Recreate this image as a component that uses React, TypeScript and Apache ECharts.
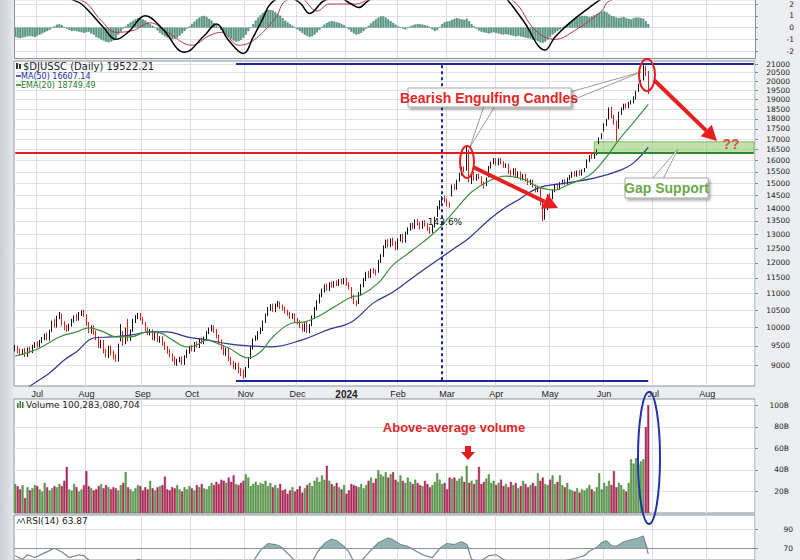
import React, { useEffect, useRef } from "react";
import * as echarts from "echarts";

// ---------- data ----------
const HOLIDAYS = ["2023-07-04","2023-09-04","2023-11-23","2023-12-25","2024-01-01","2024-01-15","2024-02-19","2024-03-29","2024-05-27","2024-07-04"];
const FIRST_DAY = "2023-06-20";
const LAST_DAY = "2024-08-28";
const MONTHS = ["Jan","Feb","Mar","Apr","May","Jun","Jul","Aug","Sep","Oct","Nov","Dec"];

const closes = [9450,9350,9300,9380,9260,9420,9350,9480,
9550,9500,9620,9700,9780,
9700,9900,10150,10050,10300,10380,
10100,10000,9950,10060,
10200,10300,10250,10400,10450,10350,
10100,9900,10000,9850,
9700,9500,9600,9350,9250,9450,9300,9200,9150,
9500,9800,9600,9950,9700,9900,
10200,10300,10350,10250,10150,
9950,9850,9900,9700,9800,9650,9700,9550,9450,
9350,9250,9150,9050,9100,9150,9050,9200,
9350,9450,9400,9550,9500,9650,9600,9700,
9850,9950,10000,9900,9750,
9600,9450,9300,9400,9150,9050,8950,9000,8850,
8800,8750,8900,
9150,9450,9650,9700,9850,9950,10150,10350,
10550,10600,10500,10650,10700,10600,10550,
10450,10400,10300,10350,10200,10150,
10050,9950,10100,9900,10050,
10300,10550,10750,10950,11100,11250,11150,
11300,11250,11350,11300,11400,11350,11450,11300,11200,
10900,10750,10700,
11000,11250,11450,11650,11550,11750,11700,11650,
12050,12250,12550,12750,12600,12800,12650,
12500,12800,12950,12750,13050,13200,
13350,13250,13500,13400,13250,13450,13350,
13200,13100,13300,13600,
14000,14250,14400,14300,14150,14100,
14900,14800,15100,
15400,15650,15550,
16250,
15100,
15400,15200,15350,15250,15000,14950,15200,
15700,15900,16050,15850,16050,15900,15750,
15800,15500,15400,15600,15300,15450,15200,15350,15150,
15000,15100,14900,14700,14850,
14200,13700,
13900,14500,14400,14700,14900,14800,15000,
15100,15000,15200,
15300,15450,15350,15500,15400,15550,15600,
16000,16200,16150,16300,16450,
17000,17200,
17700,17900,
18500,18100,17800,17500,18300,
18500,18700,18600,18800,18900,
19100,19400,
19800,20000,
20700,20400,19522.21];

const opens = [9400,9450,9380,9300,9390,9250,9430,9340,
9470,9560,9490,9610,9690,
9800,9680,9920,10180,10040,10290,
10350,10120,10020,9940,
10080,10180,10330,10240,10380,10470,
10340,10120,9880,10020,
9870,9720,9480,9620,9370,9230,9460,9320,9220,
9130,9700,9820,9580,9980,9680,
9920,10180,10290,10380,10260,
10120,9970,9830,9920,9680,9820,9630,9720,9570,
9460,9370,9260,9170,9030,9120,9170,9040,
9220,9330,9470,9380,9570,9480,9670,9580,
9690,9870,9930,10020,9920,
9770,9630,9470,9280,9420,9170,9070,8930,9020,
8870,8820,8730,
8950,9180,9430,9680,9690,9870,9930,10170,
10370,10530,10620,10480,10630,10720,10610,
10570,10460,10420,10280,10370,10220,
10170,10070,9930,10120,9880,
10070,10280,10530,10730,10930,11080,11270,
11120,11320,11230,11370,11280,11420,11330,11470,11320,
11180,10930,10730,
10720,10980,11230,11430,11680,11530,11770,11720,
11700,12030,12230,12530,12780,12580,12830,
12700,12480,12780,12980,12730,13030,
13180,13380,13230,13530,13420,13230,13480,
13380,13230,13080,13280,
13700,13980,14230,14430,14320,14170,
14500,14930,14780,
15120,15380,15680,
15600,
16350,
15050,15450,15180,15380,15270,15030,14930,
15300,15680,15880,16080,15830,16080,15930,
15720,15830,15530,15380,15630,15280,15480,15180,15380,
15180,14980,15130,14920,14680,
14800,14300,
13600,13950,14530,14380,14680,14930,14780,
15020,15130,14980,
15180,15280,15480,15330,15530,15380,15530,
15700,15980,16230,16120,16280,
16800,17050,
17400,17680,
18000,18550,18150,17850,17550,
18250,18480,18730,18580,18780,
18850,19050,
19450,19750,
20100,20750,20500];

const highs = [9520,9500,9430,9420,9440,9460,9480,9530,
9600,9620,9660,9740,9830,
9860,9940,10200,10240,10340,10450,
10400,10180,10080,10110,
10250,10350,10390,10450,10500,10520,
10380,10160,10060,10070,
9920,9760,9660,9660,9420,9500,9510,9370,9280,
9560,10100,9900,10000,10250,9950,
10250,10360,10420,10420,10300,
10160,10010,9960,9950,9850,9860,9760,9760,9610,
9500,9410,9300,9220,9160,9210,9220,9250,
9400,9500,9520,9600,9620,9700,9720,9750,
9900,10000,10080,10060,9960,
9810,9670,9510,9450,9450,9210,9110,9060,9060,
8920,8880,8950,
9200,9500,9700,9780,9900,10000,10200,10400,
10600,10680,10700,10700,10780,10760,10670,
10610,10520,10460,10410,10410,10280,
10210,10110,10150,10160,10100,
10350,10600,10800,11000,11160,11300,11320,
11360,11380,11400,11420,11460,11480,11500,11510,11360,
11210,10970,10800,
11050,11300,11500,11700,11730,11800,11830,11780,
12100,12300,12600,12810,12830,12860,12880,
12750,12850,13010,13020,13100,13260,
13420,13440,13560,13580,13470,13510,13530,
13420,13270,13350,13660,
14080,14310,14480,14500,14370,14240,
14960,14990,15160,
15460,15720,15740,
16650,
16500,
15480,15500,15410,15430,15310,15090,15260,
15760,15960,16120,16120,16110,16130,15970,
15880,15870,15590,15660,15680,15520,15520,15410,15420,
15230,15170,15170,14960,14910,
14850,14350,
14000,14560,14600,14760,14960,14990,15060,
15170,15180,15260,
15370,15510,15530,15560,15580,15610,15670,
16060,16260,16300,16360,16510,
17080,17280,
17780,17980,
18580,18620,18200,17900,18360,
18580,18780,18800,18880,18960,
19180,19480,
19880,20080,
21000,20900,20600];

const lows = [9350,9300,9240,9250,9200,9210,9300,9310,
9440,9450,9460,9570,9650,
9650,9640,9880,10000,10000,10240,
10050,9930,9880,9900,
10030,10140,10190,10200,10330,10300,
10050,9850,9830,9800,
9650,9440,9430,9300,9190,9180,9250,9140,9080,
9090,9620,9500,9540,9620,9630,
9880,10130,10240,10200,10090,
9900,9790,9780,9650,9640,9600,9580,9500,9390,
9290,9190,9090,8990,8980,9070,9000,9000,
9180,9290,9350,9340,9450,9440,9550,9540,
9650,9820,9890,9850,9700,
9540,9400,9250,9230,9100,8990,8900,8880,8790,
8720,8660,8690,
8920,9150,9400,9630,9650,9820,9900,10130,
10330,10480,10450,10440,10590,10540,10490,
10400,10340,10250,10240,10150,10090,
9990,9890,9880,9850,9840,
10040,10250,10500,10700,10890,11040,11090,
11080,11190,11190,11240,11240,11290,11290,11240,11130,
10840,10680,10620,
10690,10950,11200,11400,11490,11500,11640,11580,
11670,12000,12200,12500,12530,12540,12580,
12430,12450,12740,12690,12700,12990,
13140,13190,13200,13330,13180,13200,13290,
13130,13020,13050,13250,
13650,13940,14190,14230,14080,14020,
14460,14730,14740,
15080,15340,15480,
15550,
15050,
14980,15130,15120,15180,14930,14780,14890,
15260,15640,15840,15780,15790,15830,15680,
15670,15420,15330,15340,15230,15240,15130,15140,15080,
14930,14940,14830,14630,14640,
14100,13500,
13550,13920,14330,14350,14640,14730,14740,
14970,14930,14940,
15140,15240,15290,15290,15340,15340,15490,
15660,15940,16080,16080,16240,
16760,17000,
17360,17640,
17960,18020,17700,16900,17500,
18200,18440,18520,18540,18740,
18800,19000,
19400,19700,
20050,20300,19300];

// volume, billions
const volumesB = [27,25,22,26,14,24,21,23,26,25,
22,20,28,24,21,23,25,24,27,25,
30,43,22,21,27,24,20,22,26,39,
25,23,21,22,25,27,23,26,24,22,
24,23,21,26,28,38,24,22,20,23,
26,25,21,24,22,30,23,21,24,25,
26,34,22,21,24,23,26,22,20,24,
22,25,23,21,26,24,27,23,22,25,
28,26,29,27,31,30,28,33,29,35,
27,26,28,30,36,33,25,27,29,26,
28,27,30,25,28,24,26,23,27,21,
22,18,21,24,20,22,25,19,23,26,
28,25,30,33,29,35,31,44,30,27,
25,28,24,22,26,18,21,27,26,25,
24,27,23,26,30,33,28,32,40,36,
34,38,33,36,38,31,29,35,30,28,
33,29,27,31,28,26,25,30,27,24,
26,29,37,31,27,28,22,33,32,33,
30,32,34,29,44,28,30,27,31,43,
27,29,32,36,28,30,26,28,31,25,
27,24,29,26,28,23,25,30,27,24,
26,28,25,37,30,33,27,26,31,35,
27,29,35,26,24,28,22,21,20,23,
19,22,21,23,26,22,20,24,37,22,
28,25,30,26,39,24,28,26,22,20,
28,50,46,51,45,48,50,80,100.28];

const macdHist = [-0.8,-0.85,-0.9,-0.85,-0.8,-0.75,-0.7,-0.75,-0.8,-0.7,
-0.6,-0.5,-0.4,-0.3,-0.2,-0.05,0.1,0.25,0.3,0.2,
0.05,-0.1,-0.2,-0.3,-0.25,-0.3,-0.35,-0.4,-0.45,-0.4,
-0.35,-0.5,-0.6,-0.8,-0.9,-1.0,-1.1,-1.2,-1.25,-1.2,
-1.1,-0.9,-0.6,-0.35,-0.1,0.1,0.3,0.45,0.6,0.7,
0.8,0.75,0.7,0.6,0.45,0.3,0.15,-0.05,-0.25,-0.45,
-0.6,-0.75,-0.85,-0.95,-1.0,-0.95,-0.85,-0.7,-0.5,-0.3,
-0.1,0.1,0.3,0.5,0.7,0.85,0.95,1.0,0.9,0.75,
0.6,0.4,0.2,0.0,-0.2,-0.4,-0.6,-0.8,-0.95,-1.1,
-1.2,-1.15,-1.05,-0.85,-0.6,-0.3,0.0,0.3,0.6,0.85,
1.05,1.25,1.4,1.5,1.5,1.45,1.3,1.15,1.0,0.8,
0.6,0.45,0.3,0.15,0.0,-0.15,-0.3,-0.45,-0.6,-0.7,
-0.8,-0.75,-0.6,-0.4,-0.2,0.05,0.25,0.4,0.5,0.55,
0.5,0.45,0.4,0.3,0.2,0.05,-0.15,-0.35,-0.5,-0.6,
-0.55,-0.45,-0.3,-0.1,0.15,0.35,0.55,0.7,0.85,0.95,
0.95,0.85,0.7,0.55,0.4,0.25,0.1,0.0,-0.1,-0.15,
-0.05,0.1,0.2,0.25,0.3,0.3,0.25,0.2,0.15,0.05,
-0.15,-0.3,-0.2,0.05,0.3,0.45,0.5,0.55,0.65,0.75,
0.8,0.75,0.7,0.65,0.75,0.55,0.3,0.1,-0.1,-0.25,
-0.35,-0.4,-0.45,-0.5,-0.45,-0.4,-0.45,-0.5,-0.55,-0.6,
-0.55,-0.6,-0.65,-0.7,-0.75,-0.7,-0.75,-0.8,-0.85,-0.9,
-0.95,-1.0,-1.05,-1.15,-1.25,-1.3,-1.2,-1.0,-0.8,-0.6,
-0.45,-0.3,-0.15,0.0,0.15,0.3,0.45,0.6,0.75,0.85,
0.95,1.0,1.0,0.95,0.9,0.95,1.05,1.15,1.25,1.35,
1.4,1.3,1.15,1.0,0.95,0.85,0.8,0.85,0.9,0.8,
0.75,0.7,0.8,0.85,0.85,0.8,0.75,0.55,0.3];

const macdLinePts = [[0,3.0],[18,3.0],[23,2.4],[27,2.0],[31,1.17],[36,0.0],[41,-1.0],[46,-0.4],[53,1.0],[60,-0.1],[69,-2.1],[77,-0.7],[82,0.3],[87,-1.1],[93,-2.2],[97,-0.8],[101,0.8],[104,2.0],[110,2.7],[116,2.1],[120,1.2],[126,2.3],[132,2.5],[137,2.0],[140,1.7],[144,2.3],[156,3.5],[177,3.5],[197,3.0],[201,2.25],[207,0.6],[216,-1.9],[220,-0.8],[226,0.4],[234,1.7],[238,2.3],[246,3.2],[258,3.5]];
const signalPts = [[0,3.2],[27,2.3],[35,0.6],[41,-0.4],[48,-0.25],[55,0.4],[62,-0.4],[72,-1.5],[79,-0.7],[84,-0.4],[91,-1.5],[97,-1.1],[106,0.8],[110,2.25],[116,2.5],[123,1.4],[128,2.0],[139,2.0],[144,2.4],[156,3.3],[189,3.4],[203,2.25],[212,-0.25],[220,-1.0],[228,-0.25],[239,1.4],[242,2.25],[258,3.0]];

const ma50Pts = [[0,8200],[6,8480],[14,8800],[20,9130],[25,9340],[32,9710],[39,9740],[47,9790],[55,9880],[62,9880],[70,9740],[78,9660],[87,9550],[95,9500],[104,9470],[117,9660],[127,9930],[137,10160],[146,10720],[154,11050],[164,11630],[178,12440],[185,12870],[193,13540],[200,14040],[205,14320],[213,14810],[224,15020],[236,15230],[247,15590],[252,15900],[258,16607.14]];
const ema20Pts = [[0,9230],[6,9340],[10,9440],[18,9740],[25,9880],[30,9990],[36,9880],[41,9740],[47,9740],[54,9880],[59,9850],[64,9660],[70,9470],[74,9520],[78,9660],[81,9600],[87,9440],[95,9180],[100,9340],[105,9740],[113,10130],[118,10160],[123,10300],[130,10600],[137,10900],[141,10960],[148,11340],[154,11930],[162,12440],[172,13160],[180,14000],[186,14650],[193,15110],[200,15320],[208,15150],[213,14860],[220,14730],[225,14940],[234,15360],[240,16030],[246,16960],[252,17820],[258,18749.49]];

const rsiPts = [[0,62],[3,58],[5,63],[8,60],[12,65],[16,70],[19,66],[22,60],[26,63],[28,62],[31,55],[36,45],[40,40],[46,52],[50,58],[55,55],[60,45],[65,35],[72,45],[78,55],[82,57],[86,42],[90,35],[95,45],[98,60],[100,68],[103,75],[106,74],[108,72],[112,62],[116,50],[121,55],[123,65],[126,75],[129,80],[131,78],[134,72],[136,66],[139,50],[143,62],[145,68],[148,76],[152,81],[154,79],[157,74],[160,72],[164,66],[167,62],[170,60],[173,70],[176,75],[179,74],[182,77],[184,74],[186,58],[189,55],[193,62],[196,63],[199,58],[203,52],[209,46],[214,35],[219,50],[223,56],[228,59],[232,62],[234,67],[237,71],[239,76],[241,78],[243,73],[245,72],[248,77],[251,79],[254,81],[256,83],[258,63.87]];

const priceTicks = [9000,9500,10000,10500,11000,11500,12000,12500,13000,13500,14000,14500,15000,15500,16000,16500,17000,17500,18000,18500,19000,19500,20000,20500,21000];
const volTicks = [20,40,60,80,100];
const macdTicks = [-2,-1,0,1,2];
const rsiTicks = [70,90];

const resistanceLevel = 16350;
const gapTop = 16870;
const rallyLow = 8620;
const rallyHigh = 21000;

// ---------- helpers ----------
function buildDates(): string[] {
  const out: string[] = [];
  const [y0, m0, d0] = FIRST_DAY.split("-").map(Number);
  const [y1, m1, d1] = LAST_DAY.split("-").map(Number);
  const d = new Date(Date.UTC(y0, m0 - 1, d0));
  const end = Date.UTC(y1, m1 - 1, d1);
  while (d.getTime() <= end) {
    const wd = d.getUTCDay();
    const s = d.toISOString().slice(0, 10);
    if (wd !== 0 && wd !== 6 && HOLIDAYS.indexOf(s) < 0) out.push(s);
    d.setUTCDate(d.getUTCDate() + 1);
  }
  return out;
}

function arrowEls(x1: number, y1: number, x2: number, y2: number, color: string, w: number, head: number, hw: number) {
  const dx = x2 - x1, dy = y2 - y1;
  const L = Math.sqrt(dx * dx + dy * dy);
  const ux = dx / L, uy = dy / L;
  const bx = x2 - ux * head, by = y2 - uy * head;
  const px = -uy * hw, py = ux * hw;
  return [
    { type: "line", shape: { x1, y1, x2: bx, y2: by }, style: { stroke: color, lineWidth: w }, z: 50 },
    { type: "polygon", shape: { points: [[x2, y2], [bx + px, by + py], [bx - px, by - py]] }, style: { fill: color }, z: 50 },
  ];
}

const FONT = "'DejaVu Sans', Verdana, sans-serif";
const LFONT = "'Liberation Sans', Arial, sans-serif";
const NARROW = "'Liberation Sans Narrow', 'Arial Narrow', 'Liberation Sans', sans-serif";

export default function App() {
  const ref = useRef<HTMLDivElement>(null);
  useEffect(() => {
    if (!ref.current) return;
    const chart = echarts.init(ref.current, undefined, { renderer: "svg" });
    const dates = buildDates();
    const N = closes.length;
    const monthStarts = new Set<number>();
    for (let i = 1; i < dates.length; i++) {
      if (dates[i].slice(5, 7) !== dates[i - 1].slice(5, 7)) monthStarts.add(i);
    }
    const last = dates.length - 1;
    const ln = Math.log;

    const candleData = [];
    for (let i = 0; i < N; i++) {
      const prev = i > 0 ? closes[i - 1] : opens[0];
      const col = closes[i] >= prev ? "#111111" : "#e0201c";
      candleData.push({
        value: [ln(opens[i]), ln(closes[i]), ln(lows[i]), ln(highs[i])],
        itemStyle: { color: "#ffffff", color0: col, borderColor: col, borderColor0: col, borderWidth: 1 },
      });
    }
    const volData = volumesB.map((v, i) => {
      const up = i === 0 || closes[i] >= closes[i - 1];
      return { value: v, itemStyle: { color: up ? "#5f9e4e" : "#b8285a", borderColor: up ? "#3f7a34" : "#8e1a44", borderWidth: 0.4 } };
    });

    const gridBase = { left: 14, right: 45, show: true, backgroundColor: "#ffffff", borderColor: "#8a9099", borderWidth: 1 };
    const grids = [
      { ...gridBase, top: 0, height: 58, borderWidth: 0 },
      { ...gridBase, top: 61, height: 325 },
      { ...gridBase, top: 399, height: 114 },
      { ...gridBase, top: 515, height: 46 },
      { left: 14, right: 45, top: 515, height: 34, show: false },
    ];
    const monthSplit = { show: true, interval: (idx: number) => monthStarts.has(idx), lineStyle: { color: "#d9dee6", width: 1 } };
    const xAxes = grids.map((_, g) => ({
      type: "category",
      gridIndex: g,
      data: dates,
      boundaryGap: true,
      axisLine: { show: false },
      axisTick: { show: false },
      splitLine: g < 4 ? monthSplit : { show: false },
      axisLabel: g === 1 ? {
        show: true,
        interval: (idx: number) => monthStarts.has(idx),
        margin: 3,
        fontSize: 9,
        fontFamily: LFONT,
        color: "#222",
        formatter: (v: string) => {
          const m = Number(v.slice(5, 7)) - 1;
          return m === 0 ? "{y|" + v.slice(0, 4) + "}" : MONTHS[m];
        },
        rich: { y: { fontWeight: "bold", fontSize: 10, fontFamily: LFONT, color: "#222" } },
      } : { show: false },
    }));

    const rightLabel = (extra: any) => ({ fontSize: 7.5, fontFamily: FONT, color: "#222", ...extra });
    const yAxes = [
      {
        type: "value", gridIndex: 0, position: "right", min: -31 / 12, max: 27 / 12,
        axisLine: { show: false },
        axisTick: { show: true, customValues: macdTicks, length: 3, lineStyle: { color: "#888" } },
        axisLabel: rightLabel({ customValues: macdTicks, margin: 39, align: "right" }),
        splitLine: { show: true, lineStyle: { color: "#dde2e8" } },
      },
      {
        type: "value", gridIndex: 1, position: "right", min: ln(9000) - 21 / 355.2, max: ln(9000) + 304 / 355.2,
        axisLine: { show: false },
        axisTick: { show: true, customValues: priceTicks.map(ln), length: 3, lineStyle: { color: "#888" } },
        axisLabel: rightLabel({ customValues: priceTicks.map(ln), formatter: (v: number) => String(Math.round(Math.exp(v))), margin: 35, align: "right" }),
        splitLine: { show: true, lineStyle: { color: "#dde2e8" } },
      },
      {
        type: "value", gridIndex: 2, position: "right", min: 0, max: 106,
        axisLine: { show: false },
        axisTick: { show: true, customValues: volTicks, length: 3, lineStyle: { color: "#888" } },
        axisLabel: rightLabel({ customValues: volTicks, formatter: (v: number) => v + "B", margin: 34, align: "right" }),
        splitLine: { show: true, lineStyle: { color: "#dde2e8" } },
      },
      {
        type: "value", gridIndex: 3, position: "right", min: 90 - 31 / 0.95, max: 90 + 15 / 0.95,
        axisLine: { show: false },
        axisTick: { show: true, customValues: rsiTicks, length: 3, lineStyle: { color: "#888" } },
        axisLabel: rightLabel({ customValues: rsiTicks, margin: 38, align: "right" }),
        splitLine: { show: true, lineStyle: { color: "#dde2e8" } },
      },
      { type: "value", gridIndex: 4, min: 70, max: 90 + 15 / 0.95, show: false, splitLine: { show: false } },
    ];

    const lineBase = { type: "line", symbol: "none", silent: true };
    const series: any[] = [
      { type: "bar", xAxisIndex: 0, yAxisIndex: 0, data: macdHist, barWidth: 2, silent: true,
        itemStyle: { color: "#5e9f88", borderColor: "#2f6b56", borderWidth: 0.3 } },
      { ...lineBase, xAxisIndex: 0, yAxisIndex: 0, data: signalPts, smooth: 0.4, lineStyle: { color: "#b83848", width: 1 } },
      { ...lineBase, xAxisIndex: 0, yAxisIndex: 0, data: macdLinePts, smooth: 0.4, lineStyle: { color: "#000000", width: 1.5 } },
      {
        type: "candlestick", xAxisIndex: 1, yAxisIndex: 1, data: candleData, barMaxWidth: 2.2, silent: true,
        markArea: {
          silent: true,
          data: [[
            { coord: [dates[236], ln(gapTop)], itemStyle: { color: "rgba(150,205,115,0.6)", borderColor: "#7cb660", borderWidth: 1 } },
            { coord: [dates[last], ln(resistanceLevel)] },
          ]],
        },
        markLine: {
          silent: true, symbol: ["none", "none"], label: { show: false },
          data: [
            [{ coord: [dates[0], ln(resistanceLevel)], lineStyle: { color: "#e02020", width: 2, type: "solid" } }, { coord: [dates[236], ln(resistanceLevel)] }],
            [{ coord: [dates[236], ln(resistanceLevel)], lineStyle: { color: "#2a8a2a", width: 2, type: "solid" } }, { coord: [dates[last], ln(resistanceLevel)] }],
            [{ coord: [dates[90], ln(rallyHigh)], lineStyle: { color: "#1a2a9e", width: 2, type: "solid" } }, { coord: [dates[last], ln(rallyHigh)] }],
            [{ coord: [dates[90], ln(rallyLow)], lineStyle: { color: "#1a2a9e", width: 2, type: "solid" } }, { coord: [dates[N - 1], ln(rallyLow)] }],
            [{ coord: [dates[174], ln(rallyLow)], lineStyle: { color: "#1a2a9e", width: 2, type: [3, 3] } }, { coord: [dates[174], ln(rallyHigh)] }],
          ],
        },
      },
      { ...lineBase, xAxisIndex: 1, yAxisIndex: 1, data: ma50Pts.map(([i, v]) => [i, ln(v)]), smooth: 0.4, lineStyle: { color: "#2c3590", width: 1.2 } },
      { ...lineBase, xAxisIndex: 1, yAxisIndex: 1, data: ema20Pts.map(([i, v]) => [i, ln(v)]), smooth: 0.4, lineStyle: { color: "#3f8f3f", width: 1.2 } },
      { type: "bar", xAxisIndex: 2, yAxisIndex: 2, data: volData, barWidth: 2, silent: true },
      { ...lineBase, xAxisIndex: 4, yAxisIndex: 4, data: rsiPts.map(([i, v]) => [i, Math.max(v, 70)]), lineStyle: { width: 0 },
        areaStyle: { color: "#86aaa8", opacity: 0.9, origin: "start" } },
      { ...lineBase, xAxisIndex: 3, yAxisIndex: 3, data: rsiPts, lineStyle: { color: "#6e8696", width: 1.2 },
        markLine: { silent: true, symbol: ["none", "none"], label: { show: false },
          data: [{ yAxis: 70, lineStyle: { color: "#8a9099", width: 1, type: "solid" } }] } },
    ];

    const graphic: any[] = [
      // left frame shading
      { type: "rect", shape: { x: 0, y: 0, width: 13, height: 560 },
        style: { fill: new echarts.graphic.LinearGradient(0, 0, 1, 0, [{ offset: 0, color: "#c9ced5" }, { offset: 1, color: "#e4e7eb" }]) }, z: 1 },
      // MACD panel frame (top is cut off)
      { type: "polyline", shape: { points: [[14.5, -2], [14.5, 58.5], [755.5, 58.5], [755.5, -2]] }, style: { stroke: "#8a9099", lineWidth: 1, fill: "none" }, z: 40 },
      // legend price panel
      { type: "rect", shape: { x: 16, y: 63, width: 2, height: 6 }, style: { fill: "#333" }, z: 60 },
      { type: "rect", shape: { x: 19, y: 64, width: 2, height: 5 }, style: { fill: "#333" }, z: 60 },
      { type: "text", x: 23, y: 66, style: { text: "$DJUSSC (Daily) 19522.21", fontSize: 10, fontFamily: FONT, fill: "#222", verticalAlign: "middle" }, z: 60 },
      { type: "line", shape: { x1: 16, y1: 76, x2: 21, y2: 76 }, style: { stroke: "#1a2a9e", lineWidth: 1.5 }, z: 60 },
      { type: "text", x: 21, y: 76, style: { text: "MA(50) 16607.14", fontSize: 8, fontFamily: FONT, fill: "#1a2a9e", verticalAlign: "middle" }, z: 60 },
      { type: "line", shape: { x1: 16, y1: 85, x2: 21, y2: 85 }, style: { stroke: "#2a7a2a", lineWidth: 1.5 }, z: 60 },
      { type: "text", x: 21, y: 85, style: { text: "EMA(20) 18749.49", fontSize: 8, fontFamily: FONT, fill: "#2a7a2a", verticalAlign: "middle" }, z: 60 },
      // volume legend
      { type: "rect", shape: { x: 17, y: 403, width: 1.5, height: 5 }, style: { fill: "#3f7a34" }, z: 60 },
      { type: "rect", shape: { x: 19.5, y: 401, width: 1.5, height: 7 }, style: { fill: "#3f7a34" }, z: 60 },
      { type: "rect", shape: { x: 22, y: 402, width: 1.5, height: 6 }, style: { fill: "#3f7a34" }, z: 60 },
      { type: "text", x: 26, y: 405, style: { text: "Volume 100,283,080,704", fontSize: 9, fontFamily: FONT, fill: "#222", verticalAlign: "middle" }, z: 60 },
      // rsi legend
      { type: "polyline", shape: { points: [[17, 524], [19, 519], [21, 523], [23, 518], [25, 524]] }, style: { stroke: "#4f7f7a", lineWidth: 1, fill: "none" }, z: 60 },
      { type: "text", x: 26, y: 521, style: { text: "RSI(14) 63.87", fontSize: 9, fontFamily: FONT, fill: "#222", verticalAlign: "middle" }, z: 60 },
      // 143.6%
      { type: "text", x: 445, y: 222, style: { text: "143.6%", fontSize: 9, fontFamily: FONT, fill: "#111", align: "center", verticalAlign: "middle" }, z: 60 },
      // callouts for bearish engulfing
      { type: "polygon", shape: { points: [[484, 106], [470, 147], [495, 106]] }, style: { fill: "#ffffff", stroke: "#9a9a9a", lineWidth: 1 }, z: 55 },
      { type: "polygon", shape: { points: [[570, 92], [641, 72], [570, 101]] }, style: { fill: "#ffffff", stroke: "#9a9a9a", lineWidth: 1 }, z: 55 },
      { type: "rect", shape: { x: 408, y: 88, width: 163, height: 19 }, style: { fill: "#ffffff", stroke: "#a8a8a8", lineWidth: 1, shadowBlur: 3, shadowColor: "rgba(0,0,0,0.35)", shadowOffsetX: 2, shadowOffsetY: 2 }, z: 56 },
      { type: "text", x: 489, y: 98, style: { text: "Bearish Engulfing Candles", fontSize: 14, fontWeight: "bold", fontFamily: NARROW, fill: "#e02828", align: "center", verticalAlign: "middle" }, z: 57 },
      // ellipses
      { type: "ellipse", shape: { cx: 467, cy: 162, rx: 7, ry: 16 }, style: { fill: "none", stroke: "#e02020", lineWidth: 2 }, z: 58 },
      { type: "ellipse", shape: { cx: 647, cy: 75, rx: 8, ry: 16 }, style: { fill: "none", stroke: "#e02020", lineWidth: 2 }, z: 58 },
      ...arrowEls(473, 167, 558, 208, "#e62020", 4, 15, 8),
      ...arrowEls(654, 80, 717, 141, "#e62020", 4, 15, 8),
      { type: "text", x: 731, y: 144, style: { text: "??", fontSize: 14, fontWeight: "bold", fontFamily: LFONT, fill: "#e05040", align: "center", verticalAlign: "middle" }, z: 60 },
      // gap support
      { type: "polygon", shape: { points: [[652, 179], [678, 149], [663, 179]] }, style: { fill: "#ffffff", stroke: "#9a9a9a", lineWidth: 1 }, z: 55 },
      { type: "rect", shape: { x: 625, y: 178, width: 83, height: 20 }, style: { fill: "#ffffff", stroke: "#a8a8a8", lineWidth: 1, shadowBlur: 3, shadowColor: "rgba(0,0,0,0.35)", shadowOffsetX: 2, shadowOffsetY: 2 }, z: 56 },
      { type: "text", x: 666.5, y: 188, style: { text: "Gap Support", fontSize: 14, fontWeight: "bold", fontFamily: NARROW, fill: "#6aa84a", align: "center", verticalAlign: "middle" }, z: 57 },
      // volume annotation
      { type: "text", x: 454, y: 427, style: { text: "Above-average volume", fontSize: 13, fontWeight: "bold", fontFamily: NARROW, fill: "#e02828", align: "center", verticalAlign: "middle" }, z: 60 },
      { type: "polygon", shape: { points: [[465, 446], [471, 446], [471, 452], [475, 452], [468, 460], [461, 452], [465, 452]] }, style: { fill: "#e02020" }, z: 60 },
      { type: "ellipse", shape: { cx: 649, cy: 458, rx: 11, ry: 66 }, style: { fill: "none", stroke: "#2233aa", lineWidth: 2 }, z: 60 },
    ];

    chart.setOption({
      animation: false,
      backgroundColor: "#eceef1",
      grid: grids,
      xAxis: xAxes,
      yAxis: yAxes,
      series,
      graphic,
    });
    return () => chart.dispose();
  }, []);
  return <div ref={ref} style={{ position: "absolute", left: 0, top: 0, width: 800, height: 560 }} />;
}
